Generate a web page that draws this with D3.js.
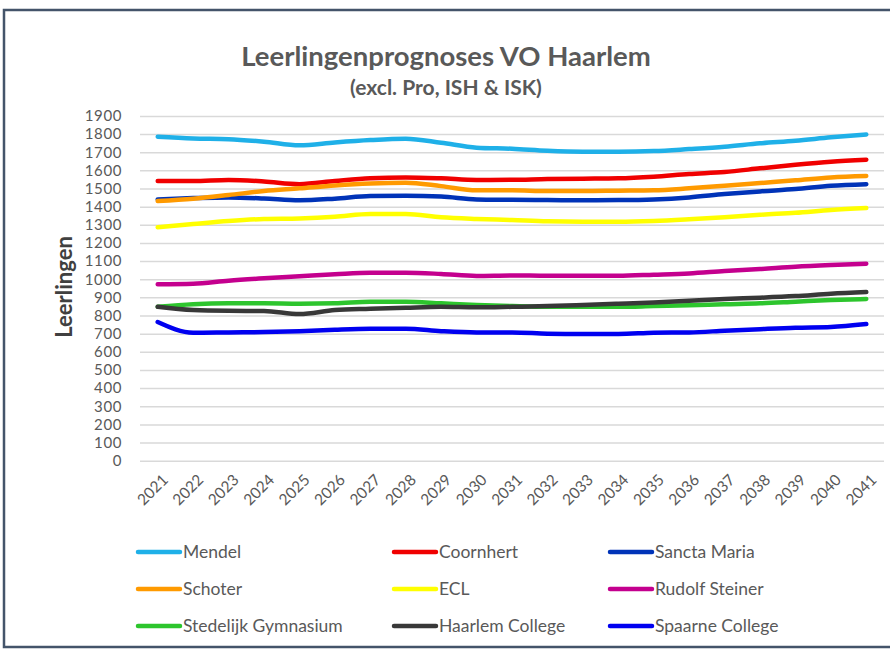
<!DOCTYPE html>
<html>
<head>
<meta charset="utf-8">
<script src="https://cdn.jsdelivr.net/npm/d3@7"></script>
<style>
  body { margin: 0; background: #fff; }
  svg { display: block; font-family: Lato, "Open Sans", sans-serif; }
</style>
</head>
<body>
<div id="chart"></div>
<script>
// years on the x axis
var years = ["2021","2022","2023","2024","2025","2026","2027","2028","2029","2030","2031",
             "2032","2033","2034","2035","2036","2037","2038","2039","2040","2041"];
var yTicks = [0,100,200,300,400,500,600,700,800,900,1000,1100,1200,1300,1400,1500,1600,1700,1800,1900];

// values per school
var mendel        = [1785,1776,1772,1758,1738,1754,1767,1774,1752,1725,1719,1708,1703,1703,1706,1717,1730,1749,1763,1782,1798];
var coornhert     = [1541,1541,1547,1539,1524,1541,1556,1561,1556,1547,1548,1552,1554,1556,1565,1580,1591,1611,1631,1648,1659];
var sanctaMaria   = [1440,1447,1451,1445,1435,1444,1458,1460,1456,1440,1438,1436,1435,1436,1440,1451,1469,1484,1497,1515,1524];
var schoter       = [1431,1444,1464,1486,1501,1517,1528,1532,1513,1490,1490,1486,1486,1488,1490,1501,1515,1530,1545,1561,1569];
var ecl           = [1286,1304,1321,1332,1335,1344,1359,1359,1341,1332,1326,1319,1317,1317,1321,1330,1341,1355,1366,1381,1392];
var rudolfSteiner = [972,975,992,1005,1016,1027,1036,1036,1029,1018,1021,1019,1019,1019,1025,1032,1045,1056,1069,1078,1085];
var stedelijk     = [848,862,867,867,865,867,876,876,867,858,852,848,848,848,852,856,862,867,876,885,891];
var haarlemCol    = [848,830,826,825,808,830,837,843,848,845,848,852,858,865,872,881,891,898,907,920,929];
var spaarneCol    = [764,705,707,709,714,722,727,727,714,707,707,700,698,698,705,707,716,725,733,737,753];

var names  = ["Mendel","Coornhert","Sancta Maria","Schoter","ECL","Rudolf Steiner","Stedelijk Gymnasium","Haarlem College","Spaarne College"];
var colors = ["#1fb0e8","#f00000","#0033b8","#ff9a00","#ffff00","#c4008e","#2dc52d","#383838","#0000f0"];
var values = [mendel,coornhert,sanctaMaria,schoter,ecl,rudolfSteiner,stedelijk,haarlemCol,spaarneCol];

var series = names.map(function(n, i) { return { name: n, color: colors[i], values: values[i] }; });

var W = 890, H = 650;
var svg = d3.select("#chart").append("svg")
	.attr("width", W)
	.attr("height", H);

// outer frame
svg.append("rect")
	.attr("x", 4).attr("y", 10)
	.attr("width", 900).attr("height", 637)
	.style("fill", "#fff")
	.style("stroke", "#44546a")
	.style("stroke-width", 2.5);

var x = d3.scalePoint().domain(years).range([140, 884]).padding(0.5);
var y = d3.scaleLinear().domain([0, 1900]).range([460.7, 115.9]);

// title
svg.append("text")
	.attr("x", 446).attr("y", 66)
	.attr("text-anchor", "middle")
	.style("font-size", "27.5px").style("font-weight", "bold")
	.style("fill", "#595959")
	.text("Leerlingenprognoses VO Haarlem");
svg.append("text")
	.attr("x", 446).attr("y", 95)
	.attr("text-anchor", "middle")
	.style("font-size", "21px").style("font-weight", "bold")
	.style("fill", "#595959")
	.text("(excl. Pro, ISH & ISK)");

// gridlines + y axis
var yAxis = d3.axisLeft(y).tickValues(yTicks).tickFormat(d3.format("d"))
	.tickSize(-(884 - 140)).tickPadding(18);
var gy = svg.append("g")
	.attr("transform", "translate(140,0)")
	.call(yAxis);
gy.select(".domain").remove();
gy.selectAll(".tick line").style("stroke", "#d9d9d9").style("stroke-width", 1.5);
gy.selectAll(".tick text")
	.style("font-family", "Lato, sans-serif")
	.style("font-size", "15px")
	.style("letter-spacing", "0.6px")
	.style("fill", "#595959");

svg.append("text")
	.attr("transform", "translate(72,287) rotate(-90)")
	.attr("text-anchor", "middle")
	.style("font-size", "22px").style("font-weight", "bold")
	.style("fill", "#404040")
	.text("Leerlingen");

// x axis
var gx = svg.append("g")
	.attr("transform", "translate(0,461)")
	.call(d3.axisBottom(x).tickSize(0).tickPadding(0));
gx.select(".domain").remove();
gx.selectAll(".tick text")
	.attr("text-anchor", "end")
	.attr("transform", "translate(7,16) rotate(-45)")
	.attr("dy", "0.35em")
	.style("font-family", "Lato, sans-serif")
	.style("font-size", "15.5px")
	.style("fill", "#595959");

// lines
var line = d3.line()
	.x(function(d, i) { return x(years[i]); })
	.y(function(d) { return y(d); })
	.curve(d3.curveMonotoneX);

svg.selectAll(".series")
	.data(series)
	.enter().append("path")
	.attr("class", "series")
	.attr("d", function(d) { return line(d.values); })
	.style("fill", "none")
	.style("stroke", function(d) { return d.color; })
	.style("stroke-width", 4.5)
	.style("stroke-linecap", "round")
	.style("stroke-linejoin", "round");

// legend, 3 columns x 3 rows
var colX = [136, 392, 608];
var rowY = [552, 589, 626];
var leg = svg.selectAll(".legend")
	.data(series)
	.enter().append("g")
	.attr("class", "legend")
	.attr("transform", function(d, i) { return "translate(" + colX[i % 3] + "," + rowY[Math.floor(i / 3)] + ")"; });
leg.append("line")
	.attr("x1", 2).attr("x2", 44)
	.attr("y1", 0).attr("y2", 0)
	.style("stroke", function(d) { return d.color; })
	.style("stroke-width", 4.5)
	.style("stroke-linecap", "round");
leg.append("text")
	.attr("x", 47).attr("y", 0)
	.attr("dy", "0.35em")
	.style("font-size", "17.5px")
	.style("fill", "#595959")
	.text(function(d) { return d.name; });
</script>
</body>
</html>
